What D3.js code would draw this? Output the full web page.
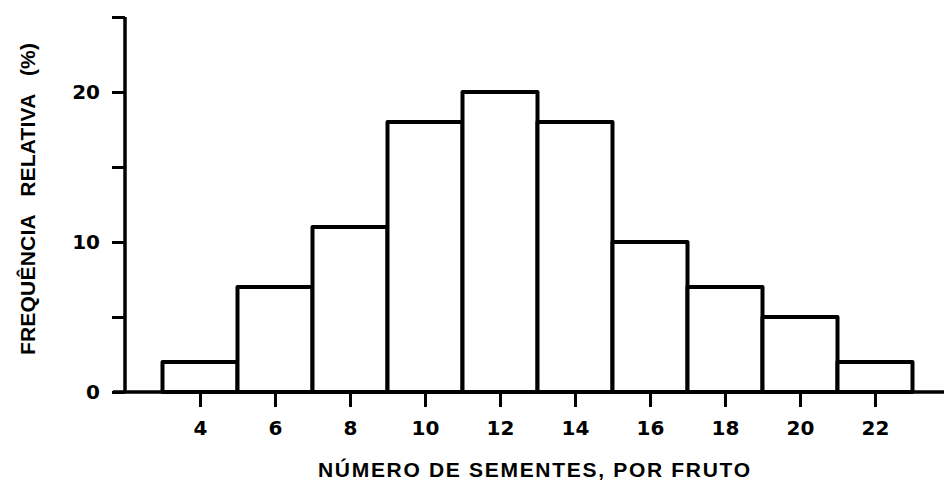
<!DOCTYPE html>
<html><head><meta charset="utf-8">
<script src="https://cdn.jsdelivr.net/npm/d3@7"></script>
<style>body{margin:0;background:#fff}svg{display:block}</style>
</head><body><div id="c"></div>
<script>
const binCenters = [4, 6, 8, 10, 12, 14, 16, 18, 20, 22];
const frequencies = [2, 7, 11, 18, 20, 18, 10, 7, 5, 2];
const xTickValues = [4, 6, 8, 10, 12, 14, 16, 18, 20, 22];
const yTickValues = [0, 5, 10, 15, 20, 25];
const yTickLabels = {0: "0", 10: "10", 20: "20"};
const binWidth = 2;
const xTitle = "NÚMERO DE SEMENTES, POR FRUTO";
const yTitle = "FREQUÊNCIA   RELATIVA   (%)";

const W = 944, H = 483;
const svg = d3.select("#c").append("svg").attr("width", W).attr("height", H);
const x = d3.scaleLinear().domain([2, 23.84]).range([125, 944]);
const y = d3.scaleLinear().domain([0, 25]).range([392, 17]);

// bars
svg.append("g").selectAll("rect").data(binCenters).join("rect")
  .attr("x", d => x(d - binWidth / 2))
  .attr("width", d => x(d + binWidth / 2) - x(d - binWidth / 2))
  .attr("y", (d, i) => y(frequencies[i]))
  .attr("height", (d, i) => y(0) - y(frequencies[i]))
  .attr("fill", "#fff").attr("stroke", "#000").attr("stroke-width", 4)
  .attr("stroke-linejoin", "round");

// x axis
const xAxis = d3.axisBottom(x).tickValues(xTickValues).tickSize(15).tickPadding(14)
  .tickFormat(d3.format("d"));
const gx = svg.append("g").attr("transform", `translate(0,${y(0)})`).call(xAxis);
gx.select(".domain").remove();
gx.append("line").attr("x1", 113).attr("x2", 944).attr("y1", 0).attr("y2", 0)
  .attr("stroke", "#000").attr("stroke-width", 3.5);
gx.selectAll(".tick line").attr("stroke", "#000").attr("stroke-width", 3);
gx.selectAll(".tick text").attr("fill", "#000")
  .style("font-family", "DejaVu Sans").style("font-weight", "bold").style("font-size", "20px");

// y axis
const yAxis = d3.axisLeft(y).tickValues(yTickValues).tickSize(13).tickPadding(12)
  .tickFormat(d => yTickLabels[d] || "");
const gy = svg.append("g").attr("transform", `translate(${x(2)},0)`).call(yAxis);
gy.select(".domain").remove();
gy.append("line").attr("x1", 0).attr("x2", 0).attr("y1", y(25)).attr("y2", y(0))
  .attr("stroke", "#000").attr("stroke-width", 3.5);
gy.selectAll(".tick line").attr("stroke", "#000").attr("stroke-width", 3);
gy.selectAll(".tick text").attr("fill", "#000")
  .style("font-family", "DejaVu Sans").style("font-weight", "bold").style("font-size", "20px");

// titles
svg.append("text").attr("x", 318).attr("y", 477)
  .attr("textLength", 432).attr("lengthAdjust", "spacing")
  .style("font-family", "Liberation Sans").style("font-weight", "bold").style("font-size", "21px")
  .text(xTitle);
svg.append("text").attr("transform", "translate(35,355) rotate(-90)")
  .attr("textLength", 312).attr("lengthAdjust", "spacing")
  .style("white-space", "pre").attr("xml:space", "preserve")
  .style("font-family", "Liberation Sans").style("font-weight", "bold").style("font-size", "21px")
  .text(yTitle);
</script></body></html>
